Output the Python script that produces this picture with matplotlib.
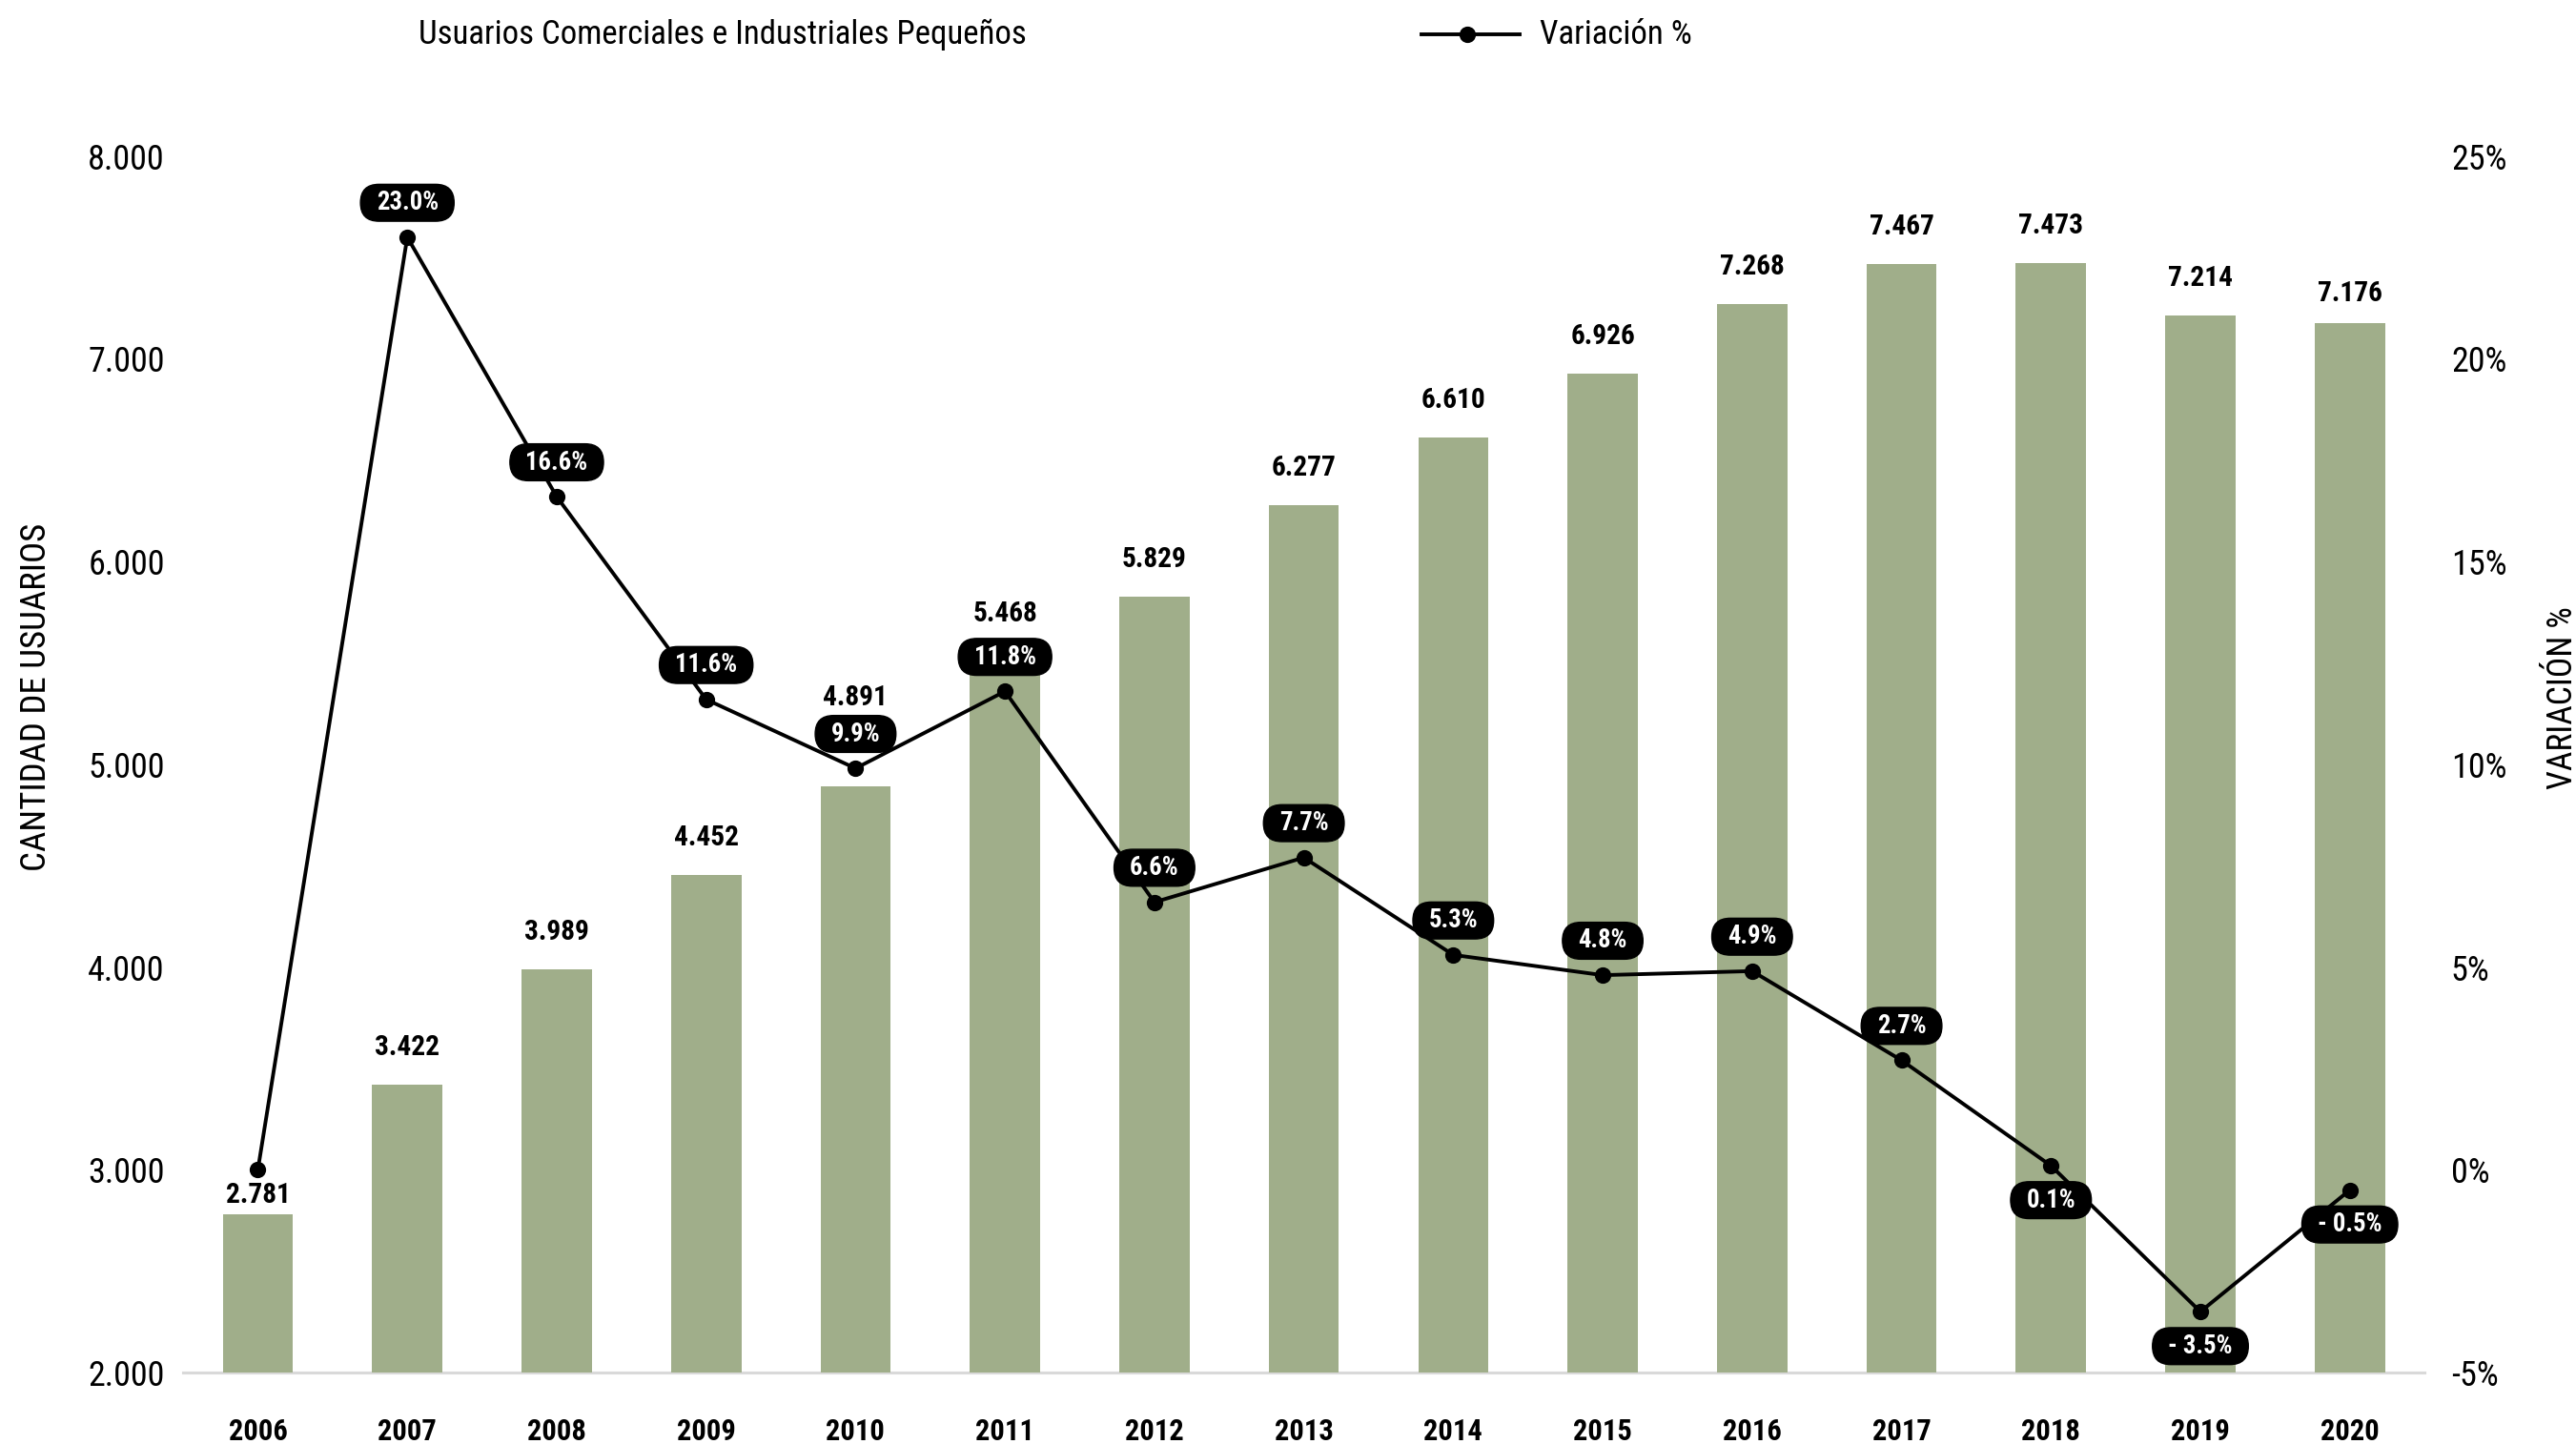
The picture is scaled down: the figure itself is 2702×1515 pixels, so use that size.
import matplotlib
matplotlib.use("Agg")
import matplotlib.pyplot as plt
from matplotlib import font_manager
from matplotlib.lines import Line2D
from matplotlib.patches import BoxStyle
from matplotlib.ticker import FixedLocator, FuncFormatter

# --- data -------------------------------------------------------------
years = [2006, 2007, 2008, 2009, 2010, 2011, 2012, 2013, 2014, 2015,
         2016, 2017, 2018, 2019, 2020]
usuarios = [2781, 3422, 3989, 4452, 4891, 5468, 5829, 6277, 6610, 6926,
            7268, 7467, 7473, 7214, 7176]
variacion = [0.0, 23.0, 16.6, 11.6, 9.9, 11.8, 6.6, 7.7, 5.3, 4.8,
             4.9, 2.7, 0.1, -3.5, -0.5]
# labels drawn below the point instead of above
below_label = [2018, 2019, 2020]

left_ticks = [2000, 3000, 4000, 5000, 6000, 7000, 8000]
right_ticks = [-5, 0, 5, 10, 15, 20, 25]

bar_name = "Usuarios Comerciales e Industriales Pequeños"
line_name = "Variación %"
left_title = "CANTIDAD DE USUARIOS"
right_title = "VARIACIÓN %"

# --- fonts ------------------------------------------------------------
available = {f.name for f in font_manager.fontManager.ttflist}
family = next(f for f in ["Roboto Condensed", "Roboto", "DejaVu Sans"]
              if f in available)
plt.rcParams["font.family"] = [family, "DejaVu Sans"]

BAR_COLOR = "#A0AE8A"
AXIS_GRAY = "#D9D9D9"


def miles(v):
    return f"{int(round(v)):,}".replace(",", ".")


def pct(v):
    return f"- {abs(v):.1f}%" if v < 0 else f"{v:.1f}%"


def pill(x0, y0, width, height, mutation_size):
    """Black label capsule: wide horizontal padding, fully rounded ends."""
    padx = 0.62 * mutation_size
    pady = 0.22 * mutation_size
    h = height + 2 * pady
    return BoxStyle.Round(pad=0, rounding_size=h / 2 / mutation_size)(
        x0 - padx, y0 - pady, width + 2 * padx, h, mutation_size)


fig = plt.figure(figsize=(13.51, 7.575), dpi=200)
ax = fig.add_axes([0.0711, 0.0495, 0.8701, 0.8424])
ax2 = ax.twinx()

x = list(range(len(years)))
ax.bar(x, usuarios, width=0.47, color=BAR_COLOR, zorder=2)
ax.set_xlim(-0.5, len(years) - 0.5)
ax.set_ylim(2000, 8000)
ax2.set_ylim(-5, 25)

# bar value labels (a few lifted clear of the variation labels)
label_lift = {0: 2, 4: 28.5, 5: 16, 14: 6}
for i, (xi, v) in enumerate(zip(x, usuarios)):
    off = label_lift.get(i, 9)
    ax.annotate(miles(v), (xi, v), xytext=(0, off), textcoords="offset points",
                ha="center", va="bottom", fontsize=10.6, fontweight="bold",
                color="black", zorder=3)

# variation line
ax2.plot(x, variacion, color="black", lw=1.4, marker="o", markersize=5.2,
         zorder=4)
for xi, yr, v in zip(x[1:], years[1:], variacion[1:]):
    dy = -13 if yr in below_label else 13
    ax2.annotate(pct(v), (xi, v), xytext=(0, dy), textcoords="offset points",
                 ha="center", va="center", fontsize=9.6, fontweight="bold",
                 color="white", zorder=5,
                 bbox=dict(boxstyle=pill, fc="black", ec="black", lw=0.5))

# axes styling
for a in (ax, ax2):
    for s in a.spines.values():
        s.set_visible(False)
ax.spines["bottom"].set_visible(True)
ax.spines["bottom"].set_color(AXIS_GRAY)
ax.spines["bottom"].set_linewidth(1.1)
ax.spines["bottom"].set_zorder(1)

ax.set_xticks(x)
ax.set_xticklabels([str(y) for y in years], fontsize=11, fontweight="bold")
ax.tick_params(axis="x", length=0, pad=17)
ax.yaxis.set_major_locator(FixedLocator(left_ticks))
ax.yaxis.set_major_formatter(FuncFormatter(lambda v, p: miles(v)))
ax.tick_params(axis="y", length=0, pad=7, labelsize=13)
ax2.yaxis.set_major_locator(FixedLocator(right_ticks))
ax2.yaxis.set_major_formatter(FuncFormatter(lambda v, p: f"{int(v)}%"))
ax2.tick_params(axis="y", length=0, pad=10, labelsize=13)

# axis titles
fig.text(0.014, 0.517, left_title, rotation=90, ha="center", va="center",
         fontsize=13.3)
fig.text(0.995, 0.517, right_title, rotation=90, ha="center", va="center",
         fontsize=12.8)

# legend row
ly = 0.976
fig.text(0.1625, ly, bar_name, ha="left", va="center", fontsize=12.5)
fig.add_artist(Line2D([0.5518, 0.5899], [ly, ly], color="black",
                      lw=1.4, transform=fig.transFigure))
fig.add_artist(Line2D([0.5696], [ly], color="black", marker="o",
                      markersize=5.2, transform=fig.transFigure))
fig.text(0.5978, ly, line_name, ha="left", va="center", fontsize=12.5)

fig.savefig("out.png", dpi=200, facecolor="white")
